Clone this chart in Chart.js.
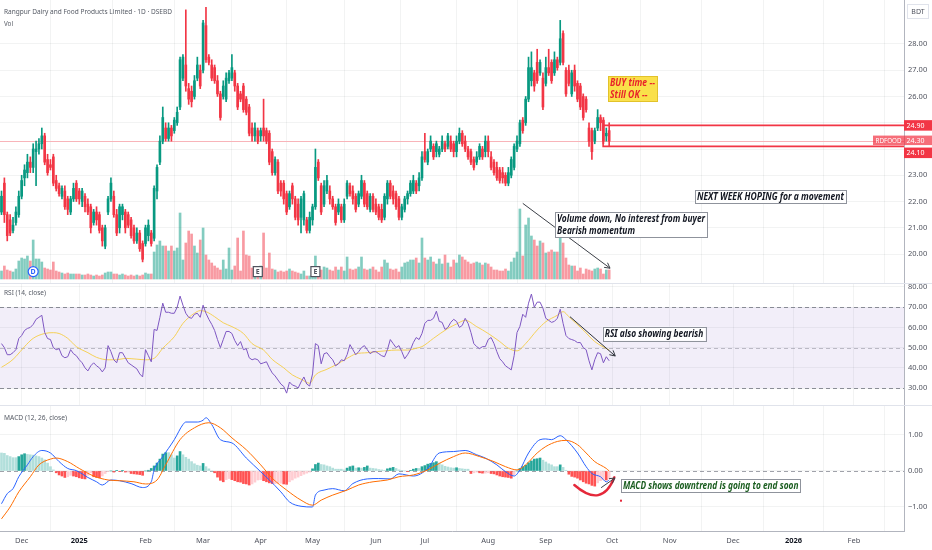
<!DOCTYPE html>
<html>
<head>
<meta charset="utf-8">
<title>RDFOOD · 1D · DSEBD</title>
<script src="https://cdn.jsdelivr.net/npm/chart.js@4.4.1/dist/chart.umd.min.js"></script>
<style>
  html, body { margin:0; padding:0; background:#ffffff; }
  body { width:932px; height:550px; position:relative; overflow:hidden; }
  canvas { position:absolute; left:0; display:block; }
  #priceCanvas { top:0; }
  #rsiCanvas { top:283px; }
  #macdCanvas { top:405px; }
</style>
</head>
<body>
<canvas id="priceCanvas" width="932" height="283"></canvas>
<canvas id="rsiCanvas" width="932" height="122"></canvas>
<canvas id="macdCanvas" width="932" height="145"></canvas>
<script>
// ---------------- DATA ----------------
const symbolTitle = 'Rangpur Dairy and Food Products Limited · 1D · DSEBD';
const ticker = 'RDFOOD';
const monthIdx = [7, 27, 50, 70, 90, 108, 130, 147, 169, 189, 212, 232, 254, 275, 296];
const monthLabels = ['Dec','2025','Feb','Mar','Apr','May','Jun','Jul','Aug','Sep','Oct','Nov','Dec','2026','Feb'];

const open = [
 21.6,22.7,21.5,21.3,20.9,21.2,21.5,22.2,22.9,23.1,
 23.5,23.3,23.9,24.0,24.2,24.5,23.6,23.4,23.7,22.8,
 22.6,22.2,22.4,22.1,21.6,22.1,22.7,22.4,22.0,22.2,
 21.9,21.8,21.2,21.6,21.5,21.0,20.3,21.6,22.1,22.2,
 21.5,21.0,21.5,21.6,21.5,21.3,21.0,20.5,20.8,20.4,
 20.4,20.7,20.8,20.6,22.4,23.5,24.3,24.8,24.4,24.8,
 24.7,25.0,25.6,26.7,27.2,26.3,26.2,26.0,26.7,27.0,
 27.0,28.7,27.5,27.2,27.1,26.6,26.1,26.0,25.9,26.6,
 26.7,26.9,26.4,26.1,26.4,25.9,25.6,24.8,24.5,24.7,
 24.5,24.8,24.7,24.6,23.9,23.1,23.5,22.7,22.7,22.3,
 21.8,22.6,22.1,21.9,21.4,21.3,21.3,20.9,21.3,21.8,
 23.5,22.6,21.9,22.4,22.4,22.1,21.8,21.6,21.8,21.3,
 22.2,22.6,22.4,22.2,21.9,22.2,22.7,22.3,21.7,22.2,
 21.9,21.8,21.7,21.4,22.1,22.7,22.4,22.3,22.1,21.4,
 21.7,22.1,22.3,22.4,22.7,22.6,22.9,23.9,23.5,24.0,
 24.1,23.9,23.8,24.0,24.2,24.1,24.3,24.2,23.9,24.3,
 24.6,24.3,24.0,23.9,23.6,23.5,23.7,24.0,23.9,24.3,
 23.7,23.5,23.3,23.2,23.1,23.0,22.7,23.0,23.3,24.0,
 24.2,25.1,25.0,25.9,26.6,26.9,27.3,26.9,26.7,26.5,
 27.1,27.3,26.9,27.4,27.3,28.4,27.0,27.0,26.1,27.0,
 26.5,26.4,26.0,25.9,24.8,24.7,24.3,24.8,25.2,25.1,
 24.5,24.7
];
const high = [
 22.4,22.9,21.6,21.5,21.4,21.8,22.4,23.0,23.4,23.8,
 23.7,24.2,24.3,24.4,24.8,24.6,23.8,23.6,23.8,23.0,
 22.7,22.6,22.6,22.2,22.2,22.7,22.8,22.5,22.5,22.3,
 22.1,21.9,21.7,21.8,21.6,21.1,21.1,22.2,22.9,22.4,
 21.7,21.9,21.9,21.7,21.6,21.4,21.1,21.0,20.9,20.5,
 21.1,21.3,20.9,22.6,23.4,24.5,25.6,25.0,25.0,24.9,
 25.2,25.6,27.5,27.6,29.3,26.5,26.4,26.8,27.5,27.2,
 28.9,29.4,27.6,27.4,27.2,26.8,26.2,26.6,26.9,27.0,
 27.6,27.0,26.5,26.2,26.5,26.0,25.7,25.0,25.0,24.8,
 24.8,25.9,24.8,24.7,24.0,23.7,23.6,22.8,22.8,22.4,
 22.4,22.7,22.2,22.1,22.2,22.4,21.4,21.6,21.9,24.0,
 23.6,22.7,22.8,23.0,22.6,22.2,21.9,22.1,21.9,22.1,
 22.8,22.7,22.6,22.3,22.4,23.0,22.8,22.4,22.3,22.3,
 22.1,21.9,21.9,22.3,22.8,22.8,22.6,22.4,22.2,21.9,
 22.2,22.4,22.8,23.0,22.8,23.1,23.9,24.6,24.0,24.5,
 24.2,24.3,24.1,24.5,24.3,24.6,24.5,24.3,24.5,24.8,
 24.7,24.5,24.1,24.0,23.7,23.9,24.2,24.1,24.5,24.5,
 23.9,23.6,23.5,23.3,23.3,23.1,23.3,23.7,24.2,24.5,
 25.1,25.2,26.0,27.5,27.7,27.0,27.8,27.4,26.9,27.5,
 27.8,27.4,27.7,27.5,28.9,28.5,27.1,27.2,27.0,27.2,
 26.6,26.5,26.1,26.0,25.0,24.8,24.8,25.5,25.3,25.2,
 24.8,25.0
];
const low = [
 21.5,21.2,20.5,20.7,20.8,21.1,21.4,22.1,22.6,22.9,
 23.1,23.1,22.6,23.8,24.0,23.4,23.0,23.2,22.6,22.4,
 22.2,22.1,21.7,21.5,21.5,22.0,22.0,21.9,21.8,21.6,
 21.5,20.8,21.1,21.1,20.8,20.3,20.2,21.5,22.0,21.4,
 20.7,20.8,21.3,20.8,21.0,20.6,20.4,20.4,20.1,19.7,
 20.3,20.5,20.3,20.5,22.1,23.4,24.2,24.3,24.3,24.3,
 24.6,24.9,25.5,26.6,26.2,25.7,25.6,25.9,26.6,26.3,
 26.9,27.3,27.2,26.6,26.5,26.0,25.1,25.9,25.8,26.5,
 26.6,26.2,25.5,25.8,25.4,25.3,24.5,24.3,24.3,24.2,
 24.3,24.3,24.2,23.4,23.0,23.0,22.3,22.2,21.9,21.5,
 21.7,21.9,21.3,21.1,20.8,21.1,20.8,20.8,21.1,21.7,
 22.8,21.5,21.8,22.3,21.9,21.7,21.1,21.5,21.2,21.2,
 22.1,22.2,21.9,21.6,21.8,22.1,21.8,21.7,21.6,21.6,
 21.5,21.3,21.2,21.3,21.9,22.1,21.9,21.7,21.3,21.3,
 21.6,21.9,22.2,22.3,22.3,22.4,22.8,23.5,23.4,23.9,
 23.6,23.7,23.7,23.9,23.9,24.0,23.9,23.7,23.7,24.2,
 24.1,23.9,23.6,23.4,23.2,23.4,23.6,23.6,23.7,23.7,
 23.2,23.0,22.8,22.7,22.7,22.6,22.6,22.9,23.2,23.9,
 24.1,24.6,24.9,25.8,26.4,26.2,26.5,26.8,25.5,26.4,
 26.8,26.5,26.8,27.0,27.2,27.2,26.0,26.4,26.0,26.2,
 25.8,25.5,25.1,25.4,24.1,23.6,24.2,24.7,24.7,24.2,
 24.3,24.1
];
const close = [
 22.2,21.5,20.7,20.8,21.1,21.6,22.2,22.8,23.2,23.5,
 23.3,24.0,24.0,24.2,24.5,23.5,23.1,23.3,22.7,22.5,
 22.3,22.5,21.8,21.7,22.1,22.5,22.1,22.1,22.4,21.8,
 21.6,21.0,21.6,21.3,20.9,20.5,21.0,22.1,22.7,21.5,
 20.8,21.8,21.8,21.0,21.1,20.7,20.5,20.8,20.2,19.8,
 21.0,21.1,20.4,22.5,23.3,24.3,25.2,24.4,24.8,24.5,
 25.1,25.4,27.4,27.5,26.4,25.9,25.8,26.6,27.2,26.4,
 28.8,27.4,27.3,26.7,26.6,26.1,25.2,26.4,26.7,26.9,
 27.1,26.4,25.6,25.9,25.5,25.4,24.6,24.5,24.8,24.3,
 24.7,24.5,24.3,23.5,23.1,23.6,22.4,22.4,22.1,21.6,
 22.3,22.1,21.4,21.3,22.1,22.3,20.9,21.4,21.8,23.3,
 22.9,21.6,22.6,22.8,22.1,21.8,21.2,21.9,21.3,21.9,
 22.7,22.3,22.1,21.7,22.3,22.8,21.9,21.8,22.2,21.7,
 21.6,21.4,21.3,22.2,22.7,22.2,22.1,21.8,21.4,21.8,
 22.1,22.3,22.7,22.8,22.4,22.9,23.7,23.6,23.9,24.3,
 23.7,24.2,24.0,24.3,24.0,24.5,24.0,23.9,24.3,24.6,
 24.2,24.0,23.7,23.5,23.3,23.7,24.1,23.7,24.3,23.9,
 23.3,23.1,22.9,22.8,22.9,22.7,23.1,23.6,24.1,24.3,
 25.0,24.7,25.9,27.1,27.1,26.4,26.6,27.3,25.6,27.1,
 26.9,26.6,27.4,27.1,28.2,27.3,26.1,26.5,26.9,26.4,
 25.9,25.6,25.2,25.5,24.3,23.9,24.7,25.2,25.0,24.3,
 24.6,24.3
];
// volume, thousand shares
const volume = [
 80,130,90,80,70,100,180,210,200,230,
 180,390,200,200,170,110,100,90,170,80,
 70,60,50,60,50,50,50,50,40,40,
 50,40,30,40,30,40,60,70,70,50,
 50,40,50,40,30,40,30,40,30,40,
 60,50,50,270,340,380,330,330,280,330,
 280,310,660,190,360,480,450,330,260,390,
 510,240,190,160,130,110,90,190,100,310,
 90,130,410,80,480,240,230,110,90,110,
 130,460,110,260,100,90,70,80,70,80,
 100,80,70,60,50,80,30,30,60,230,
 120,90,120,110,90,80,120,90,120,80,
 220,100,90,100,120,220,100,90,100,120,
 90,70,120,190,160,100,90,100,70,120,
 160,170,190,190,210,160,410,210,190,220,
 170,150,200,150,240,160,120,190,160,240,
 220,190,170,150,160,170,160,140,160,150,
 120,90,90,80,80,100,80,170,210,270,
 700,230,540,610,430,390,330,380,360,260,
 270,290,270,270,540,360,210,140,130,130,
 80,110,50,100,90,80,100,110,100,50,
 90,90
];
const rsi = [
 52,50,46.5,46.5,47.5,49,54.5,56,58.5,59.5,
 60,61.5,64,65,66,57.5,54.5,54,50,49,
 49.5,46,45,45.5,49,47,46,44,42.5,40,
 38.5,41,42.5,41,40,38,40,51,48,44,
 42.5,47.5,47.5,45,42.5,41.5,40.5,39.5,37,35.5,
 49,46,43,59,58.5,65,72,67.5,67.5,67,
 67,70,75.5,71,67,65,64.5,66.5,67,65,
 71,67,64,61.5,58.5,54,50,54,58,58,
 57,53.5,51,53,49,49.5,45,44,44.5,44,
 42,42.5,43,40,37.5,36,34,32,30.8,27.5,
 33,31.5,31,30,33,35.5,32,31,37,52,
 51,42,47,47.5,45.5,44,41,42,44,43.5,
 46.5,51.5,49,46.5,48,50,51,49,47,48,
 48,47,46,45.5,49,54,52,50,51,48,
 44.5,46.5,49,52.5,55,54,57,62,63.5,63.5,
 64.5,68,63,62.5,59,60,62.5,64,63,60,
 61,64.5,62,57.5,52,50.5,49.5,50.5,50.5,54,
 55,52,48,44.5,43,41,40,39,46,57.5,
 60.5,66.5,65,72,76.5,70,72.5,72.5,69.5,64.5,
 63.5,62.5,63,64.5,69,62,56,54.5,54,53.5,
 52.5,52.5,50,49,43.5,39,44,47.5,47,42.5,
 45.5,43.5
];
const rsiMaIdx = [0,3,5,8,11,15,18,20,23,26,30,33,37,40,43,47,50,53,56,60,63,67,69,71,74,77,80,84,87,91,94,98,101,104,107,109,113,116,120,123,127,130,134,137,141,144,146,150,155,158,161,165,169,173,176,179,182,186,189,193,195,197,202,206,211];
const rsiMa = [40.3,43,45.6,50.5,54.6,57,57.4,57,54.6,50.5,47.5,45.2,44,44,44.7,44.3,44,44.7,49.7,55.4,62,67,68.3,67.8,65.3,62.3,60.4,57,52,48.8,44.2,40,36.5,34.4,32.4,36.5,39.3,41.4,44.7,46.9,47.5,48,48.5,48.8,48.8,49.7,50.5,54.6,59.5,61.7,63.5,60.4,57,53,49.7,48.4,52,58.7,62.8,66,67.8,65.3,58.7,53,48.8];
const rsiLevels = [30, 50, 70];

const macdIdx = [0,2,4,6,9,11,14,17,20,23,26,30,33,35,38,41,45,49,52,53,56,60,63,64,68,70,71,73,76,80,85,90,93,97,100,104,108,109,112,115,119,122,127,131,135,138,143,148,152,157,161,165,168,172,175,178,180,183,187,189,191,194,196,200,203,205,208,210,211];
const macd = [-0.91,-0.63,-0.49,-0.16,0.17,0.40,0.57,0.50,0.26,0.07,0.01,-0.18,-0.30,-0.39,-0.25,-0.27,-0.35,-0.46,-0.30,0.03,0.40,0.87,1.29,1.36,1.36,1.41,1.48,1.29,0.87,0.78,0.36,-0.02,-0.25,-0.58,-0.86,-0.98,-1.00,-0.67,-0.53,-0.49,-0.55,-0.35,-0.22,-0.21,-0.22,-0.08,-0.14,0.07,0.50,0.54,0.57,0.45,0.36,0.17,-0.02,-0.14,0.03,0.50,0.87,0.89,0.87,0.98,0.87,0.50,0.12,-0.07,-0.16,-0.30,-0.25];
const signalIdx = [0,3,6,10,13,17,19,23,27,32,37,41,46,50,54,57,62,67,72,76,80,85,90,94,99,104,108,111,115,120,124,129,134,138,143,148,152,157,161,166,171,175,179,182,186,189,193,196,200,203,206,210,211];
const signal = [-1.33,-1.00,-0.58,-0.16,0.17,0.33,0.36,0.26,0.07,-0.14,-0.25,-0.27,-0.30,-0.36,-0.25,0.17,0.87,1.20,1.34,1.20,0.92,0.59,0.17,-0.20,-0.53,-0.81,-0.95,-0.81,-0.67,-0.53,-0.39,-0.30,-0.25,-0.16,-0.11,0.03,0.21,0.40,0.50,0.40,0.26,0.12,0.03,0.17,0.50,0.68,0.82,0.85,0.73,0.50,0.26,0.07,0.00];
const hist = [
 0.50,0.49,0.43,0.40,0.37,0.37,0.40,0.45,0.48,0.46,
 0.45,0.44,0.42,0.40,0.36,0.31,0.22,0.12,0.03,-0.05,
 -0.11,-0.14,-0.18,-0.16,-0.12,-0.14,-0.16,-0.19,-0.21,-0.22,
 -0.12,-0.05,-0.16,-0.18,-0.19,-0.14,-0.07,-0.02,0.00,-0.03,
 0.01,-0.01,0.01,-0.03,-0.03,-0.07,-0.08,-0.09,-0.10,-0.12,
 0.00,0.02,0.07,0.14,0.22,0.33,0.47,0.51,0.51,0.45,
 0.36,0.42,0.54,0.45,0.38,0.33,0.26,0.20,0.16,0.14,
 0.21,0.12,0.06,0.00,-0.05,-0.17,-0.26,-0.30,-0.24,-0.21,
 -0.24,-0.27,-0.30,-0.31,-0.35,-0.36,-0.39,-0.36,-0.31,-0.25,
 -0.24,-0.27,-0.30,-0.33,-0.35,-0.35,-0.34,-0.34,-0.36,-0.37,
 -0.30,-0.25,-0.20,-0.17,-0.13,-0.09,-0.06,-0.03,0.06,0.18,
 0.22,0.18,0.17,0.14,0.12,0.08,0.05,0.05,0.05,0.03,
 0.08,0.12,0.14,0.08,0.09,0.08,0.10,0.14,0.08,0.07,
 0.06,0.04,0.03,0.02,0.06,0.08,0.10,0.07,0.03,0.01,
 0.00,-0.01,0.01,0.05,0.07,0.07,0.12,0.15,0.19,0.21,
 0.23,0.26,0.22,0.17,0.13,0.11,0.09,0.08,0.09,0.07,
 0.06,0.05,0.05,-0.07,-0.05,-0.03,-0.05,-0.06,-0.06,-0.05,
 -0.07,-0.08,-0.11,-0.14,-0.16,-0.17,-0.18,-0.20,-0.11,0.00,
 0.07,0.12,0.16,0.23,0.28,0.33,0.34,0.36,0.30,0.25,
 0.20,0.17,0.12,0.12,0.17,0.10,0.02,-0.09,-0.15,-0.17,
 -0.20,-0.25,-0.30,-0.34,-0.36,-0.40,-0.42,-0.33,-0.27,-0.24,
 -0.25,-0.21
];
const priceTicks = [20,21,22,23,24,25,26,27,28];
const rsiTicks = [30,40,50,60,70,80];
const macdTicks = [-1,0,1];
const zoneTop = 24.9, zoneBottom = 24.1;
const dividendIdx = [11];
const earningsIdx = [89, 109];

// ---------------- annotation layout (data units: bar index / value) ----------------
const notes = {
  buy:  { x1:210.6, x2:227.6, y1:26.78, y2:25.83, lines:['BUY time --','Still OK --'] },
  zoneX: 208.9,
  next: { x1:240.8, x2:293.2, y1:22.44, y2:21.93, lines:['NEXT WEEK HOPING for a movement'] },
  vol:  { x1:192.2, x2:245.0, y1:21.61, y2:20.64, lines:['Volume down, No interest from buyer','Bearish momentum'] },
  volArrow: { x1:181.0, y1:21.93, x2:211.3, y2:19.46 },
  markerY: 19.33,
  rsi:  { x1:208.75, x2:244.4, y1:60.36, y2:53.43, lines:['RSI also showing bearish'] },
  rsiArrow: { x1:197.4, y1:65.3, x2:213.1, y2:45.87 },
  macd: { x1:215.1, x2:277.4, y1:-0.22, y2:-0.59, lines:['MACD shows downtrend is going to end soon'] },
  arc: { x1:198.9, y1:-0.39, cx:208.5, cy:-1.056, x2:212.8, y2:-0.175 },
  macdArrow: { x1:208.2, y1:-0.464, x2:213.0, y2:-0.195 },
  dot: { x:215.1, y:-0.825 }
};

// ---------------- styling ----------------
const UP = '#089981', DOWN = '#F23645';
const FONT = '"Noto Sans", "Open Sans", "DejaVu Sans", sans-serif';
const GRID = 'rgba(42,46,57,0.06)';
const AXIS_TXT = '#50535E';
const X_MIN = -0.52, X_MAX = 313.37;

Chart.defaults.font.family = FONT;
Chart.defaults.animation = false;
Chart.defaults.events = [];
Chart.defaults.plugins.legend.display = false;
Chart.defaults.plugins.tooltip.enabled = false;

const isUp = i => close[i] >= open[i];
const dirColor = (i, a) => {
  if (a === undefined) return isUp(i) ? UP : DOWN;
  return isUp(i) ? 'rgba(8,153,129,' + a + ')' : 'rgba(242,54,69,' + a + ')';
};
function histColor(i) {
  const v = hist[i], p = i > 0 ? hist[i - 1] : v;
  if (v >= 0) return v > p ? '#26A69A' : '#B2DFDB';
  return v < p ? '#FF5252' : '#FFCDD2';
}
const isYear = i => /^\d{4}$/.test(monthLabels[i] || '');

function makeX(withLabels) {
  return {
    type: 'linear', min: X_MIN, max: X_MAX, offset: false,
    afterBuildTicks: s => { s.ticks = monthIdx.map(v => ({ value: v })); },
    ticks: {
      display: withLabels, autoSkip: false, maxRotation: 0, minRotation: 0, padding: 5,
      color: c => isYear(c.index) ? '#131722' : AXIS_TXT,
      font: c => ({ family: FONT, size: 7.5, weight: isYear(c.index) ? 'bold' : 'normal' }),
      callback: (v, i) => monthLabels[i]
    },
    grid: { color: GRID, drawTicks: false, lineWidth: 1 },
    border: { display: withLabels, color: '#B2B5BE' },
    afterFit: s => { s.height = withLabels ? 19 : 0; s.paddingLeft = 0; s.paddingRight = 0; }
  };
}
function makeY(min, max, tickVals, hide) {
  return {
    position: 'right', min, max,
    afterBuildTicks: s => { s.ticks = tickVals.map(v => ({ value: v })); },
    ticks: {
      autoSkip: false, padding: 4, color: AXIS_TXT, font: { family: FONT, size: 7.5 },
      callback: v => (hide && hide.includes(v)) ? '' : (v < 0 ? '\u2212' + Math.abs(v).toFixed(2) : v.toFixed(2))
    },
    grid: { color: GRID, drawTicks: false },
    border: { color: '#B2B5BE' },
    afterFit: s => { s.width = 28; s.paddingTop = 0; s.paddingBottom = 0; }
  };
}

// ---------------- drawing helpers ----------------
function fitLines(ctx, lines, availW) {
  const widest = Math.max(...lines.map(t => ctx.measureText(t).width));
  return Math.min(1.25, availW / widest);
}
function drawScaled(ctx, t, x, y, s) {
  ctx.save(); ctx.translate(x, y); ctx.scale(s, 1); ctx.fillText(t, 0, 0); ctx.restore();
}
function noteBox(ctx, x1, y1, x2, y2, lines, o) {
  ctx.save();
  ctx.fillStyle = o.bg;
  ctx.fillRect(x1, y1, x2 - x1, y2 - y1);
  ctx.strokeStyle = o.border; ctx.lineWidth = 1;
  ctx.strokeRect(Math.round(x1) + 0.5, Math.round(y1) + 0.5, Math.round(x2 - x1), Math.round(y2 - y1));
  ctx.font = o.font; ctx.fillStyle = o.color; ctx.textBaseline = 'middle'; ctx.textAlign = 'left';
  const s = fitLines(ctx, lines, (x2 - x1) - 2 * o.padX);
  const h = (y2 - y1 - 2 * o.padY) / lines.length;
  lines.forEach((t, k) => drawScaled(ctx, t, x1 + o.padX, y1 + o.padY + h * (k + 0.5) + 0.5, s));
  ctx.restore();
}
function arrowLine(ctx, x1, y1, x2, y2, color) {
  ctx.save();
  ctx.strokeStyle = color; ctx.lineWidth = 1;
  ctx.beginPath(); ctx.moveTo(x1, y1); ctx.lineTo(x2, y2); ctx.stroke();
  const a = Math.atan2(y2 - y1, x2 - x1), L = 6;
  ctx.beginPath();
  ctx.moveTo(x2 - L * Math.cos(a - 0.5), y2 - L * Math.sin(a - 0.5));
  ctx.lineTo(x2, y2);
  ctx.lineTo(x2 - L * Math.cos(a + 0.5), y2 - L * Math.sin(a + 0.5));
  ctx.stroke();
  ctx.restore();
}
function paneLabel(ctx, text, x, y, w) {
  ctx.save();
  ctx.font = '7.5px ' + FONT; ctx.fillStyle = '#555a64'; ctx.textBaseline = 'alphabetic'; ctx.textAlign = 'left';
  drawScaled(ctx, text, x, y, w / ctx.measureText(text).width);
  ctx.restore();
}
function axisTag(ctx, x, yc, w, h, bg, text) {
  ctx.save();
  ctx.fillStyle = bg; ctx.fillRect(x, yc - h / 2, w, h);
  ctx.fillStyle = '#ffffff'; ctx.font = '7px ' + FONT;
  ctx.textBaseline = 'middle'; ctx.textAlign = 'left';
  const tw = ctx.measureText(text).width;
  const s = Math.min(1, (w - 5) / tw);
  drawScaled(ctx, text, x + 2.5, yc + 0.5, s);
  ctx.restore();
}
function topSeparator(c) {
  const ctx = c.ctx;
  ctx.save(); ctx.strokeStyle = '#E0E3EB'; ctx.lineWidth = 1;
  ctx.beginPath(); ctx.moveTo(0, 0.5); ctx.lineTo(c.width, 0.5); ctx.stroke();
  ctx.restore();
}

// ---------------- price pane ----------------
const priceDeco = {
  id: 'priceDeco',
  beforeDatasetsDraw(c) {
    const { ctx, chartArea: a, scales: { y } } = c;
    const py = Math.round(y.getPixelForValue(close[close.length - 1])) + 0.5;
    ctx.save();
    ctx.strokeStyle = '#F8B4B9'; ctx.lineWidth = 1;
    ctx.beginPath(); ctx.moveTo(a.left, py); ctx.lineTo(a.right, py); ctx.stroke();
    ctx.restore();
  },
  afterDraw(c) {
    const { ctx, chartArea: a, scales: { x, y } } = c;
    const X = v => x.getPixelForValue(v), Y = v => y.getPixelForValue(v);
    // titles
    paneLabel(ctx, symbolTitle, 4, 13.5, 168);
    paneLabel(ctx, 'Vol', 4, 25.5, 9);

    // zone rectangle (two red levels)
    const zx = X(notes.zoneX), yT = Y(zoneTop), yB = Y(zoneBottom);
    ctx.save();
    ctx.strokeStyle = DOWN; ctx.lineWidth = 1.6;
    ctx.beginPath();
    ctx.moveTo(a.right, yT); ctx.lineTo(zx, yT); ctx.lineTo(zx, yB); ctx.lineTo(a.right, yB);
    ctx.stroke();
    ctx.restore();

    // BUY note
    const b = notes.buy;
    noteBox(ctx, X(b.x1), Y(b.y1), X(b.x2), Y(b.y2), b.lines,
      { bg: '#FAE04A', border: '#E2C22A', color: '#E8232B', font: 'italic bold 10px ' + FONT, padX: 2, padY: 1 });
    // NEXT WEEK note
    const n = notes.next;
    noteBox(ctx, X(n.x1), Y(n.y1), X(n.x2), Y(n.y2), n.lines,
      { bg: '#ffffff', border: '#8f939c', color: '#131722', font: 'italic bold 10px ' + FONT, padX: 2, padY: 0 });
    // volume arrow + note
    const va = notes.volArrow;
    arrowLine(ctx, X(va.x1), Y(va.y1), X(va.x2), Y(va.y2), '#3b3f47');
    const v = notes.vol;
    noteBox(ctx, X(v.x1), Y(v.y1), X(v.x2), Y(v.y2), v.lines,
      { bg: '#ffffff', border: '#8f939c', color: '#131722', font: 'italic bold 10px ' + FONT, padX: 2, padY: 1 });

    // dividend / earnings markers
    const my = Y(notes.markerY);
    ctx.save();
    ctx.font = 'bold 7px ' + FONT; ctx.textAlign = 'center'; ctx.textBaseline = 'middle';
    dividendIdx.forEach(i => {
      const mx = X(i);
      ctx.fillStyle = '#ffffff'; ctx.strokeStyle = '#2962FF'; ctx.lineWidth = 1.2;
      ctx.beginPath(); ctx.arc(mx, my, 5, 0, Math.PI * 2); ctx.fill(); ctx.stroke();
      ctx.fillStyle = '#2962FF'; ctx.fillText('D', mx, my + 0.5);
    });
    earningsIdx.forEach(i => {
      const mx = X(i);
      ctx.fillStyle = '#ffffff'; ctx.strokeStyle = '#50535E'; ctx.lineWidth = 1.2;
      ctx.fillRect(mx - 4.5, my - 5, 9, 10); ctx.strokeRect(mx - 4.5, my - 5, 9, 10);
      ctx.fillStyle = '#50535E'; ctx.fillText('E', mx, my + 0.5);
    });
    ctx.restore();

    // right-axis tags
    const h = 10.5;
    const cT = Y(zoneTop), cP = Y(close[close.length - 1]) - 0.8;
    const cB = Math.max(Y(zoneBottom), cP + h + 2);
    axisTag(ctx, a.right, cT, c.width - a.right, h, DOWN, zoneTop.toFixed(2));
    axisTag(ctx, a.right - 31, cP, 31, h - 1, 'rgba(242,54,69,0.72)', ticker);
    axisTag(ctx, a.right, cP, c.width - a.right, h - 1, 'rgba(242,54,69,0.72)', close[close.length - 1].toFixed(2));
    axisTag(ctx, a.right, cB, c.width - a.right, h, DOWN, zoneBottom.toFixed(2));

    // currency box
    ctx.save();
    ctx.strokeStyle = '#E0E3EB'; ctx.lineWidth = 1;
    ctx.strokeRect(907.5, 4.5, 21, 14);
    ctx.fillStyle = '#50535E'; ctx.font = '7px ' + FONT; ctx.textAlign = 'center'; ctx.textBaseline = 'middle';
    ctx.fillText('BDT', 918, 12);
    ctx.restore();
  }
};

new Chart(document.getElementById('priceCanvas'), {
  type: 'bar',
  data: {
    datasets: [
      { label: 'Body', yAxisID: 'y', order: 1, grouped: false,
        data: open.map((o, i) => ({ x: i, y: [o, close[i]] })),
        backgroundColor: c => dirColor(c.dataIndex), borderWidth: 0,
        barThickness: 2, barPercentage: 1, categoryPercentage: 1, minBarLength: 1 },
      { label: 'Wick', yAxisID: 'y', order: 2, grouped: false,
        data: low.map((l, i) => ({ x: i, y: [l, high[i]] })),
        backgroundColor: c => dirColor(c.dataIndex), borderWidth: 0,
        barThickness: 1, barPercentage: 1, categoryPercentage: 1 },
      { label: 'Volume', yAxisID: 'yv', order: 3, grouped: false,
        data: volume.map((vv, i) => ({ x: i, y: vv })),
        backgroundColor: c => dirColor(c.dataIndex, 0.5), borderWidth: 0,
        barThickness: 2, barPercentage: 1, categoryPercentage: 1 }
    ]
  },
  options: {
    responsive: false, maintainAspectRatio: false, layout: { padding: 0 },
    scales: {
      x: makeX(false),
      y: makeY(18.896, 29.676, priceTicks, [24, 25]),
      yv: { display: false, min: -40, max: 2790 }
    }
  },
  plugins: [priceDeco]
});

// ---------------- RSI pane ----------------
const rsiDeco = {
  id: 'rsiDeco',
  beforeDatasetsDraw(c) {
    const { ctx, chartArea: a, scales: { y } } = c;
    const yHi = y.getPixelForValue(rsiLevels[2]), yLo = y.getPixelForValue(rsiLevels[0]), yMid = y.getPixelForValue(rsiLevels[1]);
    ctx.save();
    ctx.fillStyle = 'rgba(126,87,194,0.10)';
    ctx.fillRect(a.left, yHi, a.right - a.left, yLo - yHi);
    ctx.lineWidth = 1; ctx.setLineDash([4, 3]);
    ctx.strokeStyle = 'rgba(120,123,134,0.85)';
    [yHi, yLo].forEach(yy => { ctx.beginPath(); ctx.moveTo(a.left, Math.round(yy) + 0.5); ctx.lineTo(a.right, Math.round(yy) + 0.5); ctx.stroke(); });
    ctx.strokeStyle = 'rgba(120,123,134,0.45)';
    ctx.beginPath(); ctx.moveTo(a.left, Math.round(yMid) + 0.5); ctx.lineTo(a.right, Math.round(yMid) + 0.5); ctx.stroke();
    ctx.restore();
  },
  afterDraw(c) {
    const { ctx, scales: { x, y } } = c;
    const X = v => x.getPixelForValue(v), Y = v => y.getPixelForValue(v);
    topSeparator(c);
    paneLabel(ctx, 'RSI (14, close)', 4, 12, 42);
    const ar = notes.rsiArrow;
    arrowLine(ctx, X(ar.x1), Y(ar.y1), X(ar.x2), Y(ar.y2), '#2f333b');
    const r = notes.rsi;
    noteBox(ctx, X(r.x1), Y(r.y1), X(r.x2), Y(r.y2), r.lines,
      { bg: '#ffffff', border: '#8f939c', color: '#131722', font: 'italic bold 10px ' + FONT, padX: 2, padY: 0 });
  }
};

new Chart(document.getElementById('rsiCanvas'), {
  type: 'line',
  data: {
    datasets: [
      { label: 'RSI', order: 1, data: rsi.map((v, i) => ({ x: i, y: v })),
        borderColor: '#7E57C2', borderWidth: 1, pointRadius: 0, tension: 0 },
      { label: 'RSI MA', order: 2, data: rsiMaIdx.map((ix, k) => ({ x: ix, y: rsiMa[k] })),
        borderColor: 'rgba(245,205,70,0.9)', borderWidth: 1, pointRadius: 0, tension: 0.4, cubicInterpolationMode: 'monotone' }
    ]
  },
  options: {
    responsive: false, maintainAspectRatio: false, layout: { padding: 0 },
    scales: { x: makeX(false), y: makeY(21.63, 81.97, rsiTicks) }
  },
  plugins: [rsiDeco]
});

// ---------------- MACD pane ----------------
const macdDeco = {
  id: 'macdDeco',
  beforeDatasetsDraw(c) {
    const { ctx, chartArea: a, scales: { y } } = c;
    const y0 = Math.round(y.getPixelForValue(0)) + 0.5;
    ctx.save();
    ctx.strokeStyle = 'rgba(120,123,134,0.7)'; ctx.lineWidth = 1; ctx.setLineDash([4, 3]);
    ctx.beginPath(); ctx.moveTo(a.left, y0); ctx.lineTo(a.right, y0); ctx.stroke();
    ctx.restore();
  },
  afterDraw(c) {
    const { ctx, scales: { x, y } } = c;
    const X = v => x.getPixelForValue(v), Y = v => y.getPixelForValue(v);
    topSeparator(c);
    paneLabel(ctx, 'MACD (12, 26, close)', 4, 15, 63);
    // red curve
    const k = notes.arc;
    ctx.save();
    ctx.strokeStyle = '#E5283A'; ctx.lineWidth = 2.4; ctx.lineCap = 'round';
    ctx.beginPath(); ctx.moveTo(X(k.x1), Y(k.y1));
    ctx.quadraticCurveTo(X(k.cx), Y(k.cy), X(k.x2), Y(k.y2));
    ctx.stroke();
    ctx.fillStyle = '#E5283A';
    ctx.fillRect(X(notes.dot.x) - 1, Y(notes.dot.y) - 1, 2, 2);
    ctx.restore();
    const ma = notes.macdArrow;
    arrowLine(ctx, X(ma.x1), Y(ma.y1), X(ma.x2), Y(ma.y2), '#3b3f47');
    const m = notes.macd;
    noteBox(ctx, X(m.x1), Y(m.y1), X(m.x2), Y(m.y2), m.lines,
      { bg: '#ffffff', border: '#8f939c', color: '#1B5E20', font: 'italic bold 10.5px ' + FONT, padX: 2, padY: 0 });
  }
};

new Chart(document.getElementById('macdCanvas'), {
  type: 'bar',
  data: {
    datasets: [
      { type: 'line', label: 'Signal', order: 1, data: signalIdx.map((ix, k) => ({ x: ix, y: signal[k] })),
        borderColor: '#FF6D00', borderWidth: 1, pointRadius: 0, tension: 0.4, cubicInterpolationMode: 'monotone' },
      { type: 'line', label: 'MACD', order: 2, data: macdIdx.map((ix, k) => ({ x: ix, y: macd[k] })),
        borderColor: '#2962FF', borderWidth: 1, pointRadius: 0, tension: 0.4, cubicInterpolationMode: 'monotone' },
      { type: 'bar', label: 'Histogram', order: 3, grouped: false,
        data: hist.map((v, i) => ({ x: i, y: v })),
        backgroundColor: c => histColor(c.dataIndex), borderWidth: 0,
        barThickness: 2, barPercentage: 1, categoryPercentage: 1 }
    ]
  },
  options: {
    responsive: false, maintainAspectRatio: false, layout: { padding: 0 },
    scales: { x: makeX(true), y: makeY(-1.667, 1.833, macdTicks) }
  },
  plugins: [macdDeco]
});
</script>
</body>
</html>
